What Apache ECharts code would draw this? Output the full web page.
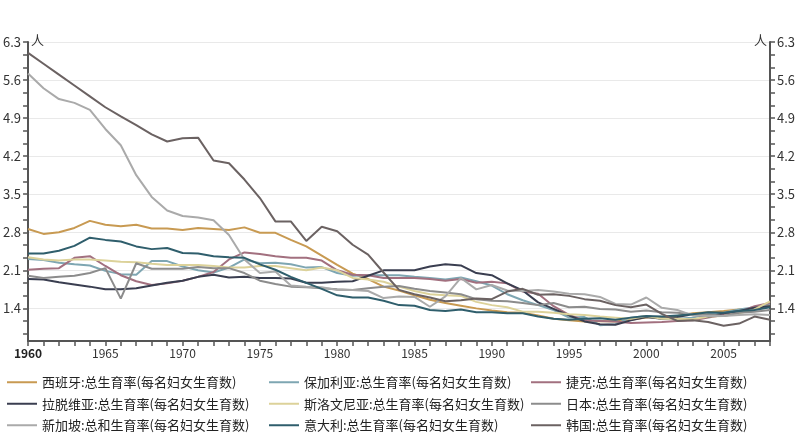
<!DOCTYPE html>
<html><head><meta charset="utf-8">
<script src="https://cdn.jsdelivr.net/npm/echarts@6/dist/echarts.min.js"></script>
<style>html,body{margin:0;padding:0;background:#fff}#c{width:804px;height:436px}</style>
</head><body><div id="c"></div>
<script>
const years = [1960,1961,1962,1963,1964,1965,1966,1967,1968,1969,1970,1971,1972,1973,1974,1975,1976,1977,1978,1979,1980,1981,1982,1983,1984,1985,1986,1987,1988,1989,1990,1991,1992,1993,1994,1995,1996,1997,1998,1999,2000,2001,2002,2003,2004,2005,2006,2007,2008];
const yTickLabels = [1.4,2.1,2.8,3.5,4.2,4.9,5.6,6.3];
const xTickLabels = [1960,1965,1970,1975,1980,1985,1990,1995,2000,2005];

const spain = [2.86,2.77,2.8,2.88,3.01,2.94,2.91,2.94,2.87,2.87, 2.84,2.88,2.86,2.84,2.89,2.79,2.79,2.66,2.54,2.37, 2.2,2.04,1.94,1.8,1.73,1.64,1.56,1.5,1.45,1.4, 1.36,1.33,1.32,1.27,1.21,1.18,1.16,1.17,1.16,1.19, 1.23,1.24,1.26,1.31,1.33,1.35,1.38,1.4,1.46];
const bulgaria = [2.31,2.29,2.24,2.21,2.19,2.09,2.03,2.02,2.27,2.27, 2.17,2.1,2.06,2.15,2.3,2.23,2.24,2.21,2.15,2.16, 2.05,2.0,2.01,2.01,2.01,1.98,1.96,1.93,1.97,1.9, 1.82,1.66,1.55,1.46,1.37,1.23,1.24,1.09,1.11,1.23, 1.26,1.21,1.21,1.23,1.29,1.32,1.38,1.42,1.48];
const czech = [2.11,2.13,2.14,2.33,2.36,2.18,2.01,1.9,1.83,1.86, 1.91,1.98,2.07,2.3,2.43,2.4,2.36,2.33,2.33,2.28, 2.1,2.02,2.01,1.96,1.96,1.96,1.94,1.91,1.94,1.87, 1.89,1.86,1.71,1.67,1.44,1.28,1.18,1.17,1.16,1.13, 1.14,1.15,1.17,1.18,1.23,1.28,1.33,1.44,1.5];
const latvia = [1.94,1.93,1.88,1.84,1.8,1.75,1.75,1.77,1.82,1.87, 1.91,1.98,2.02,1.97,1.98,1.96,1.96,1.95,1.87,1.87, 1.89,1.9,2.0,2.1,2.1,2.1,2.17,2.21,2.19,2.05, 2.01,1.86,1.73,1.51,1.39,1.27,1.16,1.11,1.1,1.18, 1.24,1.21,1.24,1.29,1.24,1.31,1.35,1.41,1.44];
const slovenia = [2.34,2.3,2.28,2.3,2.3,2.28,2.26,2.25,2.22,2.2, 2.2,2.2,2.18,2.15,2.15,2.18,2.18,2.14,2.1,2.15, 2.1,1.96,1.93,1.89,1.8,1.72,1.66,1.64,1.63,1.52, 1.46,1.42,1.34,1.34,1.32,1.29,1.28,1.25,1.23,1.21, 1.26,1.21,1.21,1.2,1.25,1.26,1.31,1.38,1.53];
const japan = [2.0,1.96,1.98,2.0,2.05,2.14,1.58,2.23,2.13,2.13, 2.13,2.16,2.14,2.14,2.05,1.91,1.85,1.8,1.79,1.77, 1.75,1.74,1.77,1.8,1.81,1.76,1.72,1.69,1.66,1.57, 1.54,1.53,1.5,1.46,1.5,1.42,1.43,1.39,1.38,1.34, 1.36,1.33,1.32,1.29,1.29,1.26,1.32,1.34,1.37];
const singapore = [5.72,5.45,5.25,5.18,5.05,4.7,4.4,3.85,3.45,3.2, 3.1,3.07,3.02,2.75,2.3,2.05,2.08,1.82,1.8,1.79, 1.74,1.74,1.72,1.59,1.62,1.61,1.43,1.62,1.96,1.75, 1.83,1.73,1.72,1.74,1.71,1.67,1.66,1.61,1.48,1.47, 1.6,1.41,1.37,1.27,1.26,1.26,1.28,1.29,1.28];
const italy = [2.41,2.41,2.46,2.55,2.7,2.66,2.63,2.54,2.49,2.51, 2.42,2.41,2.36,2.34,2.33,2.21,2.11,1.98,1.87,1.76, 1.64,1.6,1.6,1.54,1.46,1.45,1.37,1.35,1.38,1.33, 1.33,1.31,1.31,1.25,1.21,1.19,1.21,1.22,1.19,1.23, 1.26,1.25,1.27,1.29,1.33,1.32,1.35,1.37,1.42];
const korea = [6.1,5.9,5.7,5.5,5.3,5.1,4.93,4.77,4.6,4.47, 4.53,4.54,4.12,4.07,3.77,3.43,3.0,3.0,2.64,2.9, 2.82,2.57,2.39,2.06,1.74,1.66,1.6,1.53,1.55,1.58, 1.57,1.71,1.76,1.65,1.66,1.63,1.57,1.54,1.46,1.42, 1.47,1.3,1.17,1.18,1.15,1.08,1.12,1.25,1.19];

const seriesNames = [
  '西班牙:总生育率(每名妇女生育数)','保加利亚:总生育率(每名妇女生育数)','捷克:总生育率(每名妇女生育数)',
  '拉脱维亚:总生育率(每名妇女生育数)','斯洛文尼亚:总生育率(每名妇女生育数)','日本:总生育率(每名妇女生育数)',
  '新加坡:总和生育率(每名妇女生育数)','意大利:总生育率(每名妇女生育数)','韩国:总生育率(每名妇女生育数)'
];
const seriesValues = [spain,bulgaria,czech,latvia,slovenia,japan,singapore,italy,korea];
const colors = ['#c89a52','#7ea6b2','#a2707f','#3a3e50','#dcd29a','#8c8c8c','#aaaaaa','#2f5e6c','#6b6262'];

const FONT = "'Noto Sans CJK SC', 'Noto Sans', sans-serif";
const AX = '#555';

// minor ticks (3 per major interval)
const yStep = yTickLabels[1]-yTickLabels[0];
const yAllTicks = [];
for (let i = 0; i < yTickLabels.length; i++) {
  yAllTicks.push(yTickLabels[i]);
  for (let k = 1; k <= 2; k++) {
    const v = yTickLabels[i] - k*yStep/3;
    if (v > 0.8) yAllTicks.push(+v.toFixed(4));
  }
}

function yAx(pos) {
  return {
    type:'value', position:pos, min:0.8, max:6.3,
    name:'人', nameLocation:'end', nameGap:2,
    nameTextStyle:{fontFamily:FONT, fontSize:13, color:'#333', align: pos==='left'?'left':'right', verticalAlign:'middle', padding: pos==='left'?[0,0,0,3]:[0,3,0,0]},
    axisLine:{show:true, lineStyle:{color:AX, width:2}},
    axisTick:{show:true, customValues:yAllTicks, length:5, lineStyle:{color:AX, width:1.5}},
    axisLabel:{customValues:yTickLabels, formatter:v=>v.toFixed(1), margin:7, fontFamily:FONT, fontSize:13, color:'#333'},
    splitLine:{show:false}
  };
}

const chart = echarts.init(document.getElementById('c'), null, {renderer:'canvas'});
chart.setOption({
  animation:false,
  backgroundColor:'#fff',
  grid:{left:27, right:34, top:42, bottom:95, containLabel:false},
  xAxis:{
    type:'value', min:1960, max:2008, interval:1,
    axisLine:{show:true, onZero:false, lineStyle:{color:AX, width:2}},
    axisTick:{show:true, length:5, lineStyle:{color:AX, width:1.5}},
    axisLabel:{margin:6, fontFamily:FONT, fontSize:12, color:'#333',
      formatter:v=> xTickLabels.indexOf(v)<0 ? '' : (v===xTickLabels[0] ? '{b|'+v+'}' : String(v)),
      rich:{b:{fontWeight:'bold', fontFamily:FONT, fontSize:12, color:'#222'}}},
    splitLine:{show:false}
  },
  yAxis:[yAx('left'), yAx('right'), {
    type:'value', min:0.8, max:6.3, position:'left',
    axisLine:{show:false}, axisLabel:{show:false},
    axisTick:{show:false, customValues:yTickLabels},
    splitLine:{show:true, lineStyle:{color:'#e9e9e9', width:1}}
  }],
  legend:{
    orient:'horizontal', left:7, top:374, right:0,
    icon:'rect', itemWidth:30, itemHeight:2, itemGap:5, padding:0,
    textStyle:{fontFamily:FONT, fontSize:13, color:'#222', lineHeight:16.5, width:222, overflow:'none'},
    data:seriesNames
  },
  series: seriesNames.map((n,i)=>({
    name:n, type:'line', showSymbol:false, symbol:'none',
    color:colors[i],
    lineStyle:{width:2, color:colors[i]},
    data: years.map((y,j)=>[y, seriesValues[i][j]])
  }))
});
</script></body></html>
